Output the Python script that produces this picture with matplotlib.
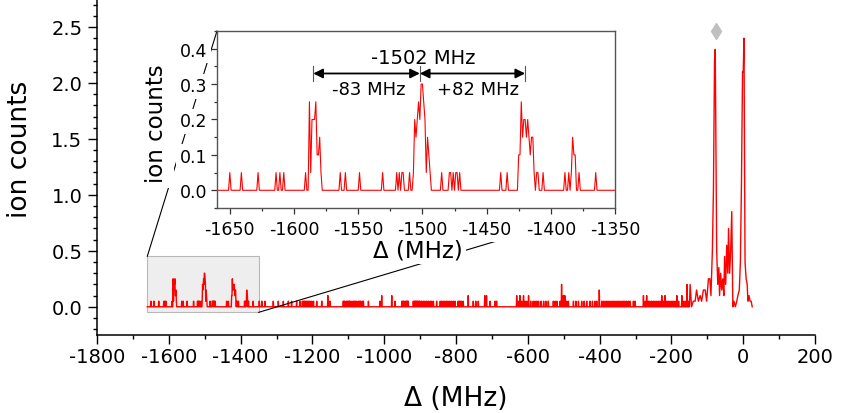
import numpy as np
import matplotlib
matplotlib.use('Agg')
from matplotlib import pyplot as plt
from matplotlib.ticker import MultipleLocator
from matplotlib.patches import Rectangle, ConnectionPatch

plt.rcParams['font.family'] = ['DejaVu Sans']
plt.rcParams['axes.unicode_minus'] = False

# scan around -1502 MHz (1 MHz steps, non-zero points only)
inset_freq = [-1650, -1641, -1628, -1614, -1611, -1608, -1591,
              -1588, -1587, -1586, -1585, -1584, -1583, -1582, -1581, -1580, -1579,
              -1564, -1560, -1549, -1531, -1520, -1518, -1516, -1515, -1510, -1507,
              -1506, -1505, -1504, -1503, -1502, -1501, -1500, -1499, -1498, -1497,
              -1496, -1495, -1494, -1485, -1479, -1478, -1476, -1474, -1473, -1471,
              -1439, -1434, -1425, -1424, -1423, -1422, -1421, -1420, -1419, -1418,
              -1417, -1416, -1415, -1414, -1413, -1411, -1410, -1406,
              -1389, -1386, -1384, -1383, -1382, -1381, -1378, -1365]
inset_cnt = [0.05, 0.05, 0.05, 0.05, 0.05, 0.05, 0.05,
             0.25, 0.05, 0.2, 0.2, 0.2, 0.25, 0.1, 0.1, 0.15, 0.05,
             0.05, 0.05, 0.05, 0.05, 0.05, 0.05, 0.05, 0.05, 0.05, 0.05,
             0.2, 0.15, 0.2, 0.25, 0.2, 0.3, 0.3, 0.25, 0.2, 0.05,
             0.15, 0.1, 0.05, 0.05, 0.05, 0.05, 0.05, 0.05, 0.05, 0.05,
             0.05, 0.05, 0.1, 0.1, 0.25, 0.15, 0.2, 0.2, 0.15, 0.2,
             0.15, 0.1, 0.15, 0.15, 0.05, 0.05, 0.05, 0.05,
             0.05, 0.05, 0.05, 0.15, 0.1, 0.1, 0.05, 0.05]

# sparse background counts between -1350 and -150 MHz
noise_freq = [-1348, -1341, -1332, -1309, -1295, -1281, -1267, -1258, -1244, -1235,
              -1228, -1225, -1222, -1220, -1216, -1213, -1210, -1207, -1202, -1197,
              -1188, -1174, -1157, -1151, -1114, -1112, -1110, -1105, -1102, -1100,
              -1097, -1095, -1090, -1086, -1083, -1080, -1077, -1072, -1069, -1066,
              -1061, -1058, -1044, -1012, -1007, -979, -970, -951, -948, -946,
              -942, -939, -937, -935, -933, -919, -916, -914, -912, -910,
              -907, -905, -902, -900, -896, -891, -887, -882, -877, -872,
              -868, -863, -854, -844, -840, -835, -831, -826, -822, -817,
              -812, -807, -803, -794, -791, -789, -785, -780, -766, -752,
              -745, -738, -720, -715, -705, -691, -687, -631, -627, -622,
              -617, -612, -608, -603, -598, -592, -585, -580, -575, -570,
              -563, -556, -550, -543, -529, -524, -519, -510, -506, -501,
              -497, -492, -487, -473, -466, -459, -450, -443, -436, -427,
              -420, -413, -408, -401, -394, -390, -385, -380, -376, -371,
              -366, -362, -357, -352, -348, -343, -338, -334, -330, -325,
              -320, -315, -306, -301, -278, -273, -269, -264, -260, -255,
              -250, -246, -241, -236, -232, -227, -223, -218, -213, -209,
              -204, -199, -195, -190, -185, -180, -171, -167, -162, -157, -153]
noise_cnt = [0.05, 0.05, 0.05, 0.05, 0.05, 0.05, 0.05, 0.05, 0.05, 0.05,
             0.05, 0.05, 0.05, 0.05, 0.05, 0.05, 0.05, 0.05, 0.05, 0.05,
             0.05, 0.05, 0.1, 0.05, 0.05, 0.05, 0.05, 0.05, 0.05, 0.05,
             0.05, 0.05, 0.05, 0.05, 0.05, 0.05, 0.05, 0.05, 0.05, 0.05,
             0.05, 0.05, 0.05, 0.05, 0.1, 0.1, 0.05, 0.05, 0.05, 0.05,
             0.05, 0.05, 0.05, 0.05, 0.05, 0.05, 0.05, 0.05, 0.05, 0.05,
             0.05, 0.05, 0.05, 0.05, 0.05, 0.05, 0.05, 0.05, 0.05, 0.05,
             0.05, 0.05, 0.05, 0.05, 0.05, 0.05, 0.05, 0.05, 0.05, 0.05,
             0.05, 0.05, 0.05, 0.05, 0.05, 0.05, 0.05, 0.05, 0.1, 0.05,
             0.05, 0.05, 0.1, 0.1, 0.05, 0.05, 0.05, 0.1, 0.05, 0.1,
             0.05, 0.1, 0.05, 0.05, 0.1, 0.05, 0.05, 0.05, 0.05, 0.05,
             0.05, 0.05, 0.05, 0.05, 0.05, 0.05, 0.05, 0.05, 0.2, 0.1,
             0.1, 0.05, 0.05, 0.05, 0.05, 0.05, 0.05, 0.05, 0.05, 0.05,
             0.05, 0.05, 0.05, 0.15, 0.05, 0.05, 0.05, 0.05, 0.05, 0.05,
             0.05, 0.05, 0.05, 0.05, 0.05, 0.05, 0.05, 0.05, 0.05, 0.05,
             0.05, 0.05, 0.05, 0.05, 0.1, 0.05, 0.1, 0.05, 0.05, 0.05,
             0.05, 0.05, 0.05, 0.05, 0.05, 0.1, 0.05, 0.1, 0.05, 0.05,
             0.05, 0.05, 0.05, 0.05, 0.1, 0.05, 0.1, 0.05, 0.05, 0.2, 0.05]

# main resonances near 0 MHz
peak_freq = [-148, -144, -139, -134, -130, -125, -120, -116, -111, -106,
             -102, -97, -93, -90, -86, -83, -80, -78, -74, -71,
             -68, -66, -63, -60, -57, -54, -52, -49, -46, -43,
             -41, -38, -35, -32, -29, -26, -22, -18, -15, -11,
             -8, -5, -2, 0, 2, 5, 8, 11, 13, 16, 19, 22, 25]
peak_cnt = [0.2, 0, 0.05, 0.05, 0.15, 0.05, 0.1, 0.05, 0.15, 0.15,
            0.05, 0.25, 0.25, 0.1, 0.5, 1.05, 2.2, 2.3, 0.5, 0.2,
            0.35, 0.1, 0.3, 0.15, 0.25, 0.1, 0.45, 0.2, 0.55, 0.3,
            0.7, 0.3, 0.5, 0.85, 0, 0.05, 0, 0.05, 0.1, 0.15,
            0.4, 1.1, 2.1, 2.1, 2.4, 0.4, 0.25, 0.2, 0.05, 0.1, 0.05, 0.05, 0]

marker_f = -77
marker_y = 2.46

scan_f = np.arange(-1660, -149)
scan_c = np.zeros(len(scan_f))
for f, c in zip(inset_freq + noise_freq, inset_cnt + noise_cnt):
    scan_c[f + 1660] = c
freq = np.concatenate([scan_f, peak_freq])
counts = np.concatenate([scan_c, peak_cnt])

fig = plt.figure(figsize=(8.42, 4.14), dpi=100)
ax = fig.add_axes([0.1152, 0.189, 0.8528, 0.811])
ax.plot(freq, counts, color='#ff0000', lw=1.0, zorder=3)
ax.plot(marker_f, marker_y, marker='d', color='#c0c0c0', ms=8, zorder=3)
ax.add_patch(Rectangle((-1660, -0.05), 310, 0.5, facecolor='#eeeeee',
                       edgecolor='#b8b8b8', lw=0.8, zorder=1))
ax.set_xlim(-1800, 200)
ax.set_ylim(-0.25, 2.75)
ax.spines['top'].set_visible(False)
ax.spines['right'].set_visible(False)
for s in ['left', 'bottom']:
    ax.spines[s].set_linewidth(1.1)
ax.xaxis.set_major_locator(MultipleLocator(200))
ax.xaxis.set_minor_locator(MultipleLocator(100))
ax.yaxis.set_major_locator(MultipleLocator(0.5))
ax.yaxis.set_minor_locator(MultipleLocator(0.1))
ax.yaxis.set_major_formatter(plt.FormatStrFormatter('%.1f'))
ax.tick_params(which='major', length=6.5, width=1.0, labelsize=14)
ax.tick_params(which='minor', length=3.2, width=1.0)
ax.tick_params(axis='x', pad=2)
ax.tick_params(axis='y', pad=4)
ax.set_xlabel('Δ (MHz)', fontsize=19)
ax.set_ylabel('ion counts', fontsize=19)
ax.xaxis.set_label_coords(0.5, -0.15)
ax.yaxis.set_label_coords(-0.089, 0.554)

# inset
axins = fig.add_axes([0.2577, 0.4952, 0.4727, 0.4275], zorder=5)
axins.plot(freq, counts, color='#ff0000', lw=0.8)
axins.set_xlim(-1660, -1350)
axins.set_ylim(-0.05, 0.45)
for s in axins.spines.values():
    s.set_color('#555555')
    s.set_linewidth(1.0)
axins.set_xticks(np.arange(-1650, -1349, 50))
axins.set_yticks([0.0, 0.1, 0.2, 0.3, 0.4])
axins.xaxis.set_minor_locator(MultipleLocator(25))
axins.yaxis.set_minor_locator(MultipleLocator(0.05))
axins.yaxis.set_major_formatter(plt.FormatStrFormatter('%.1f'))
axins.tick_params(which='major', length=4, width=0.9, labelsize=12.5, color='#333333')
axins.tick_params(which='minor', length=2.5, width=0.9, color='#333333')
axins.tick_params(axis='x', pad=5)
axins.tick_params(axis='y', pad=3)
for lab in axins.get_xticklabels() + axins.get_yticklabels():
    lab.set_bbox(dict(facecolor='white', edgecolor='none', pad=2.5))
axins.set_xlabel('Δ (MHz)', fontsize=16.5,
                 bbox=dict(facecolor='white', edgecolor='none', pad=2))
axins.set_ylabel('ion counts', fontsize=16.5,
                 bbox=dict(facecolor='white', edgecolor='none', pad=4))
axins.xaxis.set_label_coords(0.505, -0.17)
axins.yaxis.set_label_coords(-0.123, 0.48)

# splitting arrows
axins.annotate('', xy=(-1585, 0.33), xytext=(-1502, 0.33),
               arrowprops=dict(arrowstyle='<|-|>', color='black', lw=1.3,
                               mutation_scale=14, shrinkA=0, shrinkB=0))
axins.annotate('', xy=(-1502, 0.33), xytext=(-1420, 0.33),
               arrowprops=dict(arrowstyle='<|-|>', color='black', lw=1.3,
                               mutation_scale=14, shrinkA=0, shrinkB=0))
for xb in [-1585, -1502, -1420]:
    axins.plot([xb, xb], [0.31, 0.35], color='#555555', lw=0.8)
axins.text(-1499, 0.374, '-1502 MHz', fontsize=14, ha='center', va='center')
axins.text(-1542, 0.285, '-83 MHz', fontsize=13, ha='center', va='center')
axins.text(-1457, 0.285, '+82 MHz', fontsize=13, ha='center', va='center')

# zoom connectors (lower one stops under the inset tick labels)
for xyA, xyB in [((-1660, 0.45), (0, 1)), ((-1350, -0.05), (0.736, -0.164))]:
    con = ConnectionPatch(xyA=xyA, coordsA=ax.transData, xyB=xyB,
                          coordsB=axins.transAxes, color='black', lw=0.8, zorder=1)
    fig.add_artist(con)

plt.savefig('out.png', dpi=100)
